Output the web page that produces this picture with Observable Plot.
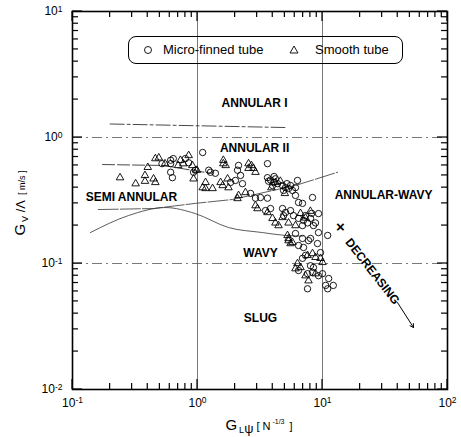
<!DOCTYPE html>
<html><head><meta charset="utf-8">
<script src="https://cdn.jsdelivr.net/npm/d3@7"></script>
<script src="https://cdn.jsdelivr.net/npm/@observablehq/plot@0.6"></script>
<style>
body{margin:0;background:#fff;}
#wrap{position:relative;width:461px;height:437px;}
#legend{position:absolute;left:128px;top:36px;width:275px;height:28px;box-sizing:border-box;border:1.4px solid #000;border-radius:8px;font:13px "Liberation Sans",Arial,sans-serif;color:#000;}
#legend span,#legend svg{position:absolute;}
</style></head><body><div id="wrap"><div id="legend"></div></div>
<script>
// ---- data ----
const xMajor = [0.1, 1, 10, 100];
const yMajor = [0.01, 0.1, 1, 10];
const xMinor = [0.2,0.3,0.4,0.5,0.6,0.7,0.8,0.9,2,3,4,5,6,7,8,9,20,30,40,50,60,70,80,90];
const yMinor = [0.02,0.03,0.04,0.05,0.06,0.07,0.08,0.09,0.2,0.3,0.4,0.5,0.6,0.7,0.8,0.9,2,3,4,5,6,7,8,9];
const seriesNames = ["Micro-finned tube", "Smooth tube"];

const microFinned = [
[0.61,0.66],[0.64,0.68],[0.63,0.48],[0.61,0.53],[0.80,0.68],[0.85,0.63],[0.96,0.55],[0.93,0.53],[1.10,0.76],[0.52,0.62],[0.61,0.62],
[2.13,0.60],[2.09,0.55],[2.21,0.50],[3.63,0.62],[1.23,0.55],[1.27,0.53],[1.39,0.52],[1.84,0.44],[2.01,0.456],[2.29,0.43],
[3.63,0.48],[3.84,0.46],[4.06,0.44],[4.37,0.43],[3.98,0.416],[4.2,0.47],[3.7,0.45],[4.1,0.49],
[2.66,0.36],[2.91,0.33],[3.19,0.334],[3.63,0.33],[3.5,0.263],[3.84,0.273],
[4.79,0.416],[5.06,0.40],[5.35,0.394],[5.75,0.38],[6.08,0.40],[5.55,0.416],[4.88,0.38],[5.2,0.43],
[6.31,0.456],[6.08,0.347],[6.43,0.305],[6.92,0.30],
[4.79,0.273],[5.06,0.254],[5.55,0.263],[5.86,0.24],[4.88,0.24],
[8.32,0.334],[6.43,0.228],[7.05,0.22],[7.59,0.21],[8.02,0.228],[8.47,0.20],[8.79,0.21],[6.92,0.20],[7.3,0.24],[8.2,0.25],
[9.29,0.249],[11.0,0.167],[6.08,0.173],[6.92,0.158],[7.73,0.152],
[9.29,0.176],[6.43,0.139],[7.05,0.134],[8.02,0.158],[9.12,0.144],[9.64,0.122],[6.92,0.11],[7.31,0.116],[8.02,0.096],[8.47,0.093],
[6.43,0.088],[7.59,0.083],[8.32,0.085],[9.29,0.08],[10,0.083],[11.2,0.076],[7.59,0.063],[10.6,0.067],[11.0,0.063],[12.2,0.067]
];
const smooth = [
[0.24,0.48],[0.32,0.43],[0.40,0.58],[0.38,0.50],[0.445,0.47],[0.46,0.44],[0.46,0.68],[0.49,0.69],[0.77,0.62],[0.73,0.66],[0.93,0.47],
[0.38,0.45],[0.85,0.72],[0.91,0.60],[1.16,0.44],[0.55,0.62],[0.70,0.60],[0.99,0.55],
[1.61,0.66],[1.61,0.62],[1.68,0.60],[2.56,0.62],[2.56,0.57],[2.8,0.57],[2.91,0.53],[1.10,0.40],[1.16,0.394],[1.32,0.394],[1.53,0.44],
[1.59,0.416],[1.74,0.47],[1.77,0.40],[2.09,0.328],[2.13,0.347],[2.42,0.366],[2.91,0.288],[3.02,0.273],[3.63,0.254],[3.98,0.228],
[4.2,0.21],[4.45,0.20],[4.79,0.232],[5.35,0.21],[6.08,0.20],[5.25,0.167],[5.35,0.158],[5.75,0.147],[4.2,0.44],[4.6,0.45],
[6.67,0.25],[7.31,0.23],[8.0,0.26],[3.9,0.40],[2.7,0.60],[5.0,0.36],
[5.35,0.152],[5.55,0.144],[7.59,0.116],[8.32,0.12],[8.79,0.112],[6.31,0.10],[6.67,0.093],[6.08,0.091],[9.64,0.11],[10,0.102],
[7.31,0.08],[7.73,0.073],[8.79,0.083]
];

// flow-regime boundaries
const boundaryAnnular = [[0.2,1.28],[5.0,1.2]];
const boundarySemiAnnular = [[0.174,0.61],[0.535,0.60],[1.0,0.54],[1.3,0.52]];
const boundaryWavyUpper = [[0.161,0.268],[0.445,0.273],[0.96,0.30],[1.9,0.322],[6.08,0.416],[13.2,0.53]];
const boundaryWavyLower = [[0.139,0.176],[0.28,0.24],[0.555,0.278],[0.96,0.249],[1.77,0.193],[3.31,0.176],[5.06,0.167],[7.0,0.165]];

const regionLabels = [
  {text:"ANNULAR I", x:2.86, y:1.86},
  {text:"ANNULAR II", x:2.86, y:0.83},
  {text:"SEMI ANNULAR", x:0.296, y:0.334},
  {text:"ANNULAR-WAVY", x:30.8, y:0.347},
  {text:"WAVY", x:3.19, y:0.12},
  {text:"SLUG", x:3.19, y:0.037}
];
const trendMark = [{text:"×", x:13.9, y:0.193}];
const trendLabel = [{text:"DECREASING", x:25.1, y:0.0864}];
const trendArrow = [{x1:39.8, y1:0.049, x2:53.5, y2:0.031}];

// ---- layout ----
const W = 461, H = 437, mL = 72, mR = 14, mT = 11, mB = 48;
const majLen = 10, minLen = 6;
const font = "Liberation Sans, Arial, Helvetica, sans-serif";
const sup = d => "10^" + Math.round(Math.log10(d));

const plot = Plot.plot({
  width: W, height: H,
  marginLeft: mL, marginRight: mR, marginTop: mT, marginBottom: mB,
  style: {fontFamily: font, fontSize: "12px", background: "#fff", color: "#000"},
  x: {type: "log", domain: [0.1, 100]},
  y: {type: "log", domain: [0.01, 10]},
  marks: [
    Plot.ruleX([1, 10], {stroke: "#555", strokeWidth: 0.8}),
    Plot.ruleY([0.1, 1], {stroke: "#555", strokeWidth: 0.8, strokeDasharray: "10,4,2,4"}),
    Plot.line(boundaryAnnular, {x: d => d[0], y: d => d[1], stroke: "#333", strokeWidth: 0.9, strokeDasharray: "14,3,3,3"}),
    Plot.line(boundarySemiAnnular, {x: d => d[0], y: d => d[1], stroke: "#333", strokeWidth: 0.9, strokeDasharray: "12,3"}),
    Plot.line(boundaryWavyUpper, {x: d => d[0], y: d => d[1], stroke: "#333", strokeWidth: 0.8, strokeDasharray: "20,2"}),
    Plot.line(boundaryWavyLower, {x: d => d[0], y: d => d[1], stroke: "#333", strokeWidth: 0.8, curve: "monotone-x"}),
    Plot.dot(microFinned, {x: d => d[0], y: d => d[1], symbol: "circle", r: 3.2, stroke: "#000", fill: "none", strokeWidth: 0.9}),
    Plot.dot(smooth, {x: d => d[0], y: d => d[1], symbol: "triangle", r: 2.8, stroke: "#000", fill: "none", strokeWidth: 0.9}),
    Plot.text(regionLabels, {x: "x", y: "y", text: "text", fontWeight: "bold", fontSize: 12, fill: "#000"}),
    Plot.text(trendMark, {x: "x", y: "y", text: "text", fontWeight: "bold", fontSize: 15, fill: "#000"}),
    Plot.text(trendLabel, {x: "x", y: "y", text: "text", fontWeight: "bold", fontSize: 12, rotate: 52, fill: "#000"}),
    Plot.arrow(trendArrow, {x1: "x1", y1: "y1", x2: "x2", y2: "y2", stroke: "#000", strokeWidth: 1, headLength: 6}),
    Plot.frame({stroke: "#000", strokeWidth: 1.6}),
    Plot.axisX({anchor: "bottom", ticks: xMajor, tickSize: 0, tickPadding: 9, label: null, fontSize: 12, tickFormat: sup}),
    Plot.axisY({anchor: "left", ticks: yMajor, tickSize: 0, tickPadding: 10, label: null, fontSize: 12, tickFormat: sup})
  ]
});

const wrap = document.getElementById("wrap");
wrap.insertBefore(plot, wrap.firstChild);
const svg = d3.select(plot);

// inward ticks on all four sides, placed through the plot's own scales
const sx = plot.scale("x"), sy = plot.scale("y");
const frameBottom = H - mB, frameTop = mT, frameLeft = mL, frameRight = W - mR;
const tg = svg.append("g").attr("stroke", "#000").attr("stroke-width", 1.2).attr("fill", "none");
function xTick(v, len) {
  const px = sx.apply(v);
  tg.append("line").attr("x1", px).attr("x2", px).attr("y1", frameBottom).attr("y2", frameBottom - len);
  tg.append("line").attr("x1", px).attr("x2", px).attr("y1", frameTop).attr("y2", frameTop + len);
}
function yTick(v, len) {
  const py = sy.apply(v);
  tg.append("line").attr("y1", py).attr("y2", py).attr("x1", frameLeft).attr("x2", frameLeft + len);
  tg.append("line").attr("y1", py).attr("y2", py).attr("x1", frameRight).attr("x2", frameRight - len);
}
xMinor.forEach(v => xTick(v, minLen)); xMajor.forEach(v => xTick(v, majLen));
yMinor.forEach(v => yTick(v, minLen)); yMajor.forEach(v => yTick(v, majLen));

// superscript exponents on tick labels
svg.selectAll('g[aria-label="x-axis tick label"] text, g[aria-label="y-axis tick label"] text').each(function () {
  const t = d3.select(this);
  const s = t.text();
  if (!s.includes("^")) return;
  const e = s.split("^")[1];
  t.text(null);
  t.append("tspan").text("10");
  t.append("tspan").attr("dy", "-0.45em").attr("font-size", "8.5px").text(e);
});

// axis titles
const xTitle = svg.append("text").attr("x", 259).attr("y", 430).attr("text-anchor", "middle")
  .attr("font-family", font).attr("fill", "#000");
xTitle.append("tspan").attr("font-size", "15px").text("G");
xTitle.append("tspan").attr("font-size", "9px").attr("dx", "2").attr("dy", "3").text("L");
xTitle.append("tspan").attr("font-size", "13px").text("\u03C8");
xTitle.append("tspan").attr("font-size", "11px").attr("dx", "3").attr("dy", "-3").text("[ N");
xTitle.append("tspan").attr("font-size", "7px").attr("dy", "-6").text(" -1/3");
xTitle.append("tspan").attr("font-size", "11px").attr("dx", "5").attr("dy", "6").text("]");

const yTitle = svg.append("text").attr("transform", "translate(25,203) rotate(-90)").attr("text-anchor", "middle")
  .attr("font-family", font).attr("fill", "#000");
yTitle.append("tspan").attr("font-size", "15px").text("G");
yTitle.append("tspan").attr("font-size", "9px").attr("dx", "2").attr("dy", "3").text("V");
yTitle.append("tspan").attr("font-size", "13px").attr("dy", "-3").text(" /\u039B");
yTitle.append("tspan").attr("font-size", "9px").attr("dx", "5").text("[ m/s ]");

// legend
const lg = d3.select("#legend");
const legCircle = lg.append("svg").attr("width", 10).attr("height", 10).style("left", "14px").style("top", "8px");
legCircle.append("circle").attr("cx", 5).attr("cy", 5).attr("r", 3.5).attr("fill", "none").attr("stroke", "#000").attr("stroke-width", 0.9);
lg.append("span").style("left", "34px").style("top", "5px").text(seriesNames[0]);
const legTri = lg.append("svg").attr("width", 10).attr("height", 10).style("left", "160px").style("top", "8px");
legTri.append("path").attr("d", "M5,1 L9,8 L1,8 Z").attr("fill", "none").attr("stroke", "#000").attr("stroke-width", 0.9);
lg.append("span").style("left", "186px").style("top", "5px").text(seriesNames[1]);
</script>
</body></html>
